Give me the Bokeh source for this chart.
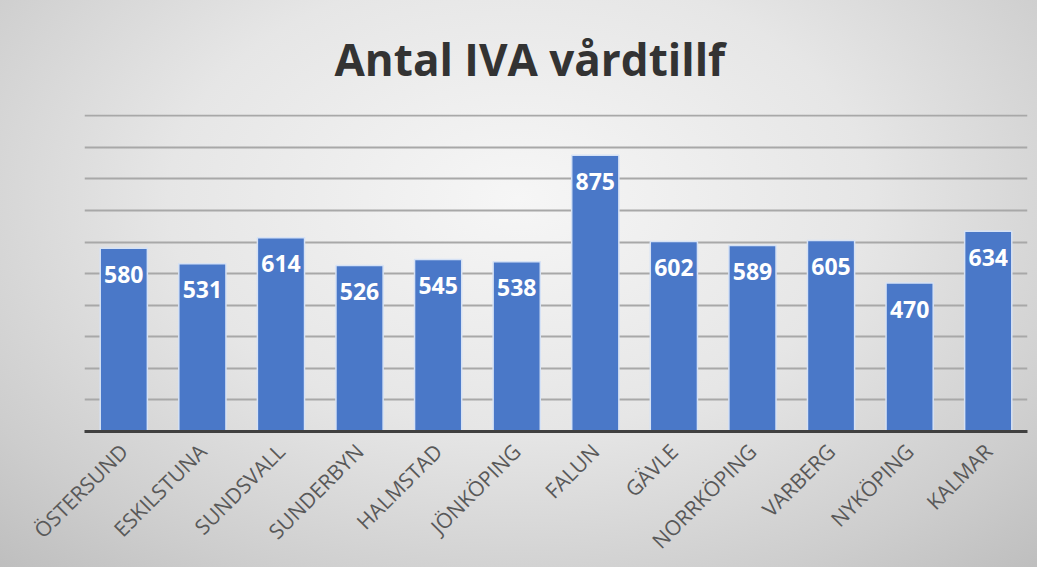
from bokeh.plotting import figure
from bokeh.models import ColumnDataSource, Title, FixedTicker
from bokeh.core.properties import value
from bokeh.embed import file_html
from bokeh.resources import INLINE
import math

cities = ["ÖSTERSUND", "ESKILSTUNA", "SUNDSVALL", "SUNDERBYN", "HALMSTAD", "JÖNKÖPING",
          "FALUN", "GÄVLE", "NORRKÖPING", "VARBERG", "NYKÖPING", "KALMAR"]
counts = [580, 531, 614, 526, 545, 538, 875, 602, 589, 605, 470, 634]
title_text = "Antal IVA vårdtillf"

idx = list(range(len(cities)))
src = ColumnDataSource(dict(i=idx, n=counts, lab=[str(v) for v in counts]))

W, H = 1037, 567
p = figure(x_range=(-0.5, len(cities) - 0.5), y_range=(0, 1004), width=W, height=H,
           output_backend="svg", toolbar_location=None,
           min_border_left=84, min_border_right=10, min_border_top=114, min_border_bottom=136)
p.styles = {"background": "radial-gradient(ellipse 75% 90% at 50% 35%, #f6f6f6 0%, #e6e6e6 45%, #cdcdcd 80%, #bdbdbd 100%)"}
p.background_fill_alpha = 0
p.border_fill_alpha = 0
p.outline_line_color = None

p.vbar(x="i", top="n", width=0.6, source=src, fill_color="#4A78C8",
       line_color="#D6E2F5", line_width=1.5)
p.text(x="i", y="n", text="lab", source=src, text_align="center", text_baseline="middle",
       y_offset=26, text_color="white", text_font=value("Open Sans"), text_font_style="bold",
       text_font_size="23px")

p.yaxis.visible = False
p.ygrid.ticker = list(range(0, 1001, 100))
p.ygrid.grid_line_color = "#a8a8a8"
p.ygrid.grid_line_width = 2
p.xgrid.grid_line_color = None

ax = p.xaxis[0]
ax.ticker = FixedTicker(ticks=idx)
ax.major_label_overrides = {i: c for i, c in zip(idx, cities)}
ax.axis_line_color = "#404040"
ax.axis_line_width = 3
ax.major_tick_line_color = None
ax.minor_tick_line_color = None
ax.major_label_orientation = math.pi / 4
ax.major_label_text_font = "Open Sans"
ax.major_label_text_font_size = "21px"
ax.major_label_text_color = "#595959"
ax.major_label_standoff = 10

p.add_layout(Title(text=title_text, align="left", offset=250, text_font="Open Sans",
                   text_font_size="44px", text_font_style="bold", text_color="#333333",
                   standoff=52), "above")

open("out.html", "w").write(file_html(p, INLINE))
